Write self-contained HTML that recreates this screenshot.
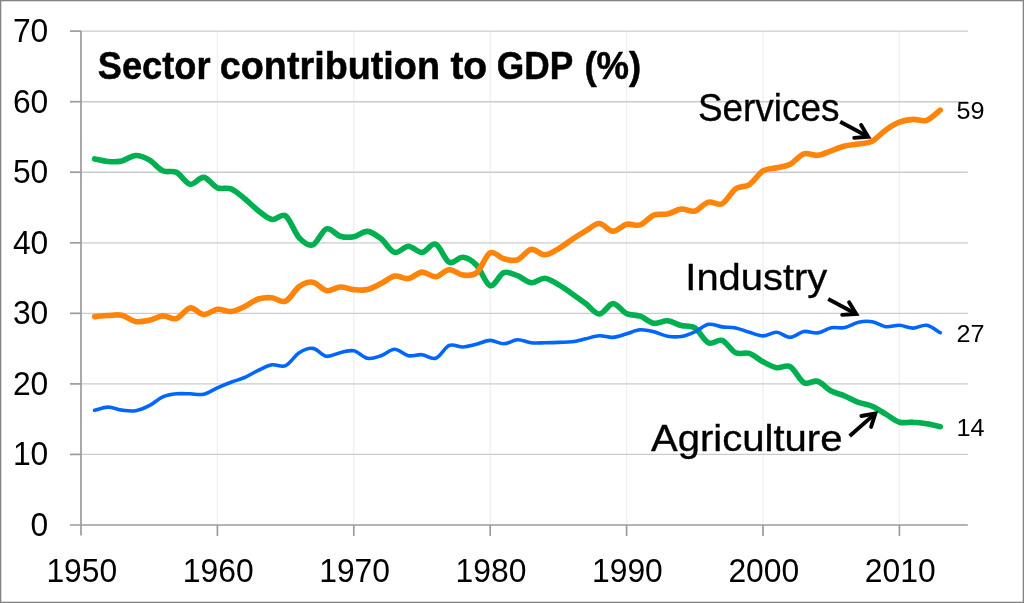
<!DOCTYPE html>
<html><head><meta charset="utf-8"><title>Sector contribution to GDP</title>
<style>html,body{margin:0;padding:0;background:#fff;}body{width:1024px;height:603px;overflow:hidden;font-family:"Liberation Sans",sans-serif;}svg{display:block;will-change:transform;}text{font-family:"Liberation Sans",sans-serif;fill:#000;}</style></head><body>
<svg width="1024" height="603" viewBox="0 0 1024 603">
<rect x="0" y="0" width="1024" height="603" fill="#fff"/>
<rect x="0.65" y="0.65" width="1022.7" height="601.7" fill="none" stroke="#838383" stroke-width="1.3"/>
<line x1="217.4" y1="31.1" x2="217.4" y2="525.0" stroke="#f0f0f0" stroke-width="1.3"/>
<line x1="353.8" y1="31.1" x2="353.8" y2="525.0" stroke="#f0f0f0" stroke-width="1.3"/>
<line x1="490.2" y1="31.1" x2="490.2" y2="525.0" stroke="#f0f0f0" stroke-width="1.3"/>
<line x1="626.6" y1="31.1" x2="626.6" y2="525.0" stroke="#f0f0f0" stroke-width="1.3"/>
<line x1="763.0" y1="31.1" x2="763.0" y2="525.0" stroke="#f0f0f0" stroke-width="1.3"/>
<line x1="899.4" y1="31.1" x2="899.4" y2="525.0" stroke="#f0f0f0" stroke-width="1.3"/>
<line x1="81.0" y1="454.4" x2="967.8" y2="454.4" stroke="#cbcbcb" stroke-width="1.35"/>
<line x1="81.0" y1="383.9" x2="967.8" y2="383.9" stroke="#cbcbcb" stroke-width="1.35"/>
<line x1="81.0" y1="313.3" x2="967.8" y2="313.3" stroke="#cbcbcb" stroke-width="1.35"/>
<line x1="81.0" y1="242.8" x2="967.8" y2="242.8" stroke="#cbcbcb" stroke-width="1.35"/>
<line x1="81.0" y1="172.2" x2="967.8" y2="172.2" stroke="#cbcbcb" stroke-width="1.35"/>
<line x1="81.0" y1="101.7" x2="967.8" y2="101.7" stroke="#cbcbcb" stroke-width="1.35"/>
<line x1="81.0" y1="31.1" x2="967.8" y2="31.1" stroke="#cbcbcb" stroke-width="1.35"/>
<line x1="81.0" y1="31.1" x2="81.0" y2="535.5" stroke="#9b9b9b" stroke-width="1.7"/>
<line x1="70" y1="525.0" x2="967.8" y2="525.0" stroke="#9b9b9b" stroke-width="1.7"/>
<line x1="70" y1="454.4" x2="81.0" y2="454.4" stroke="#9b9b9b" stroke-width="1.7"/>
<line x1="70" y1="383.9" x2="81.0" y2="383.9" stroke="#9b9b9b" stroke-width="1.7"/>
<line x1="70" y1="313.3" x2="81.0" y2="313.3" stroke="#9b9b9b" stroke-width="1.7"/>
<line x1="70" y1="242.8" x2="81.0" y2="242.8" stroke="#9b9b9b" stroke-width="1.7"/>
<line x1="70" y1="172.2" x2="81.0" y2="172.2" stroke="#9b9b9b" stroke-width="1.7"/>
<line x1="70" y1="101.7" x2="81.0" y2="101.7" stroke="#9b9b9b" stroke-width="1.7"/>
<line x1="70" y1="31.1" x2="81.0" y2="31.1" stroke="#9b9b9b" stroke-width="1.7"/>
<line x1="217.4" y1="525.0" x2="217.4" y2="536.0" stroke="#9b9b9b" stroke-width="1.7"/>
<line x1="353.8" y1="525.0" x2="353.8" y2="536.0" stroke="#9b9b9b" stroke-width="1.7"/>
<line x1="490.2" y1="525.0" x2="490.2" y2="536.0" stroke="#9b9b9b" stroke-width="1.7"/>
<line x1="626.6" y1="525.0" x2="626.6" y2="536.0" stroke="#9b9b9b" stroke-width="1.7"/>
<line x1="763.0" y1="525.0" x2="763.0" y2="536.0" stroke="#9b9b9b" stroke-width="1.7"/>
<line x1="899.4" y1="525.0" x2="899.4" y2="536.0" stroke="#9b9b9b" stroke-width="1.7"/>
<text transform="translate(48.3 535.9) scale(0.965 1)" font-size="33" text-anchor="end">0</text>
<text transform="translate(48.3 465.3) scale(0.965 1)" font-size="33" text-anchor="end">10</text>
<text transform="translate(48.3 394.8) scale(0.965 1)" font-size="33" text-anchor="end">20</text>
<text transform="translate(48.3 324.2) scale(0.965 1)" font-size="33" text-anchor="end">30</text>
<text transform="translate(48.3 253.7) scale(0.965 1)" font-size="33" text-anchor="end">40</text>
<text transform="translate(48.3 183.1) scale(0.965 1)" font-size="33" text-anchor="end">50</text>
<text transform="translate(48.3 112.6) scale(0.965 1)" font-size="33" text-anchor="end">60</text>
<text transform="translate(48.3 42.0) scale(0.965 1)" font-size="33" text-anchor="end">70</text>
<text transform="translate(81.8 581.6) scale(0.965 1)" font-size="33" text-anchor="middle">1950</text>
<text transform="translate(218.2 581.6) scale(0.965 1)" font-size="33" text-anchor="middle">1960</text>
<text transform="translate(354.6 581.6) scale(0.965 1)" font-size="33" text-anchor="middle">1970</text>
<text transform="translate(491.0 581.6) scale(0.965 1)" font-size="33" text-anchor="middle">1980</text>
<text transform="translate(627.4 581.6) scale(0.965 1)" font-size="33" text-anchor="middle">1990</text>
<text transform="translate(763.8 581.6) scale(0.965 1)" font-size="33" text-anchor="middle">2000</text>
<text transform="translate(900.2 581.6) scale(0.965 1)" font-size="33" text-anchor="middle">2010</text>
<path d="M94.6 158.9 C96.9 159.3 103.7 161.2 108.3 161.5 C112.8 161.8 117.4 161.9 121.9 160.9 C126.5 159.9 131.0 155.7 135.6 155.5 C140.1 155.3 144.7 157.3 149.2 159.9 C153.7 162.5 158.3 168.7 162.8 170.8 C167.4 172.9 171.9 170.2 176.5 172.4 C181.0 174.6 185.6 183.4 190.1 184.2 C194.7 185.0 199.2 176.8 203.8 177.4 C208.3 178.0 212.9 185.9 217.4 187.8 C221.9 189.7 226.5 187.0 231.0 188.8 C235.6 190.6 240.1 195.0 244.7 198.7 C249.2 202.3 253.8 207.2 258.3 210.7 C262.9 214.2 267.4 218.6 272.0 219.5 C276.5 220.4 281.1 212.8 285.6 215.9 C290.1 219.0 294.7 233.0 299.2 237.8 C303.8 242.6 308.3 246.3 312.9 244.8 C317.4 243.3 322.0 230.2 326.5 228.8 C331.1 227.4 335.6 234.9 340.2 236.2 C344.7 237.5 349.3 237.6 353.8 236.8 C358.3 236.0 362.9 231.1 367.4 231.4 C372.0 231.7 376.5 235.3 381.1 238.8 C385.6 242.3 390.2 251.2 394.7 252.4 C399.3 253.6 403.8 246.2 408.4 246.2 C412.9 246.2 417.5 252.7 422.0 252.4 C426.5 252.1 431.1 242.5 435.6 244.2 C440.2 245.8 444.7 260.1 449.3 262.3 C453.8 264.5 458.4 256.8 462.9 257.3 C467.5 257.8 472.0 260.5 476.6 265.2 C481.1 269.9 485.7 284.4 490.2 285.7 C494.7 286.9 499.3 274.4 503.8 272.7 C508.4 271.0 512.9 274.0 517.5 275.7 C522.0 277.4 526.6 282.3 531.1 282.7 C535.7 283.1 540.2 278.0 544.8 278.3 C549.3 278.6 553.9 282.1 558.4 284.7 C562.9 287.3 567.5 290.5 572.0 293.7 C576.6 296.9 581.1 300.2 585.7 303.6 C590.2 307.0 594.8 314.0 599.3 314.0 C603.9 314.0 608.4 303.7 613.0 303.6 C617.5 303.5 622.1 311.5 626.6 313.6 C631.1 315.7 635.7 314.6 640.2 316.2 C644.8 317.8 649.3 322.5 653.9 323.3 C658.4 324.1 663.0 320.4 667.5 320.8 C672.1 321.2 676.6 324.3 681.2 325.5 C685.7 326.7 690.3 325.0 694.8 327.9 C699.3 330.8 703.9 340.7 708.4 342.8 C713.0 344.9 717.5 338.7 722.1 340.4 C726.6 342.1 731.2 350.6 735.7 352.8 C740.3 355.0 744.8 351.9 749.4 353.4 C753.9 354.9 758.5 359.4 763.0 361.8 C767.5 364.2 772.1 366.9 776.6 367.7 C781.2 368.5 785.7 364.2 790.3 366.7 C794.8 369.2 799.4 380.3 803.9 382.7 C808.5 385.1 813.0 379.9 817.6 381.3 C822.1 382.7 826.7 388.6 831.2 391.0 C835.7 393.4 840.3 394.1 844.8 396.0 C849.4 397.9 853.9 400.7 858.5 402.4 C863.0 404.1 867.6 404.2 872.1 406.2 C876.7 408.2 881.2 411.5 885.8 414.2 C890.3 416.9 894.9 420.9 899.4 422.2 C903.9 423.5 908.5 421.9 913.0 422.2 C917.6 422.4 922.1 422.9 926.7 423.7 C931.2 424.4 938.0 426.2 940.3 426.7" fill="none" stroke="#00b050" stroke-width="5.6" stroke-linecap="round" stroke-linejoin="round"/>
<path d="M94.6 410.3 C96.9 409.8 103.7 407.1 108.3 407.1 C112.8 407.1 117.4 409.5 121.9 410.1 C126.5 410.7 131.0 411.4 135.6 410.7 C140.1 410.0 144.7 408.0 149.2 405.7 C153.7 403.4 158.3 398.8 162.8 396.8 C167.4 394.8 171.9 394.3 176.5 393.8 C181.0 393.3 185.6 393.7 190.1 393.8 C194.7 393.9 199.2 395.2 203.8 394.2 C208.3 393.2 212.9 389.8 217.4 387.8 C221.9 385.8 226.5 383.9 231.0 382.2 C235.6 380.5 240.1 379.5 244.7 377.5 C249.2 375.5 253.8 372.4 258.3 370.3 C262.9 368.2 267.4 365.6 272.0 364.8 C276.5 364.0 281.1 367.7 285.6 365.7 C290.1 363.7 294.7 355.6 299.2 352.7 C303.8 349.8 308.3 347.8 312.9 348.4 C317.4 349.0 322.0 355.6 326.5 356.3 C331.1 357.0 335.6 353.6 340.2 352.7 C344.7 351.8 349.3 349.9 353.8 350.8 C358.3 351.7 362.9 357.5 367.4 358.3 C372.0 359.1 376.5 357.2 381.1 355.7 C385.6 354.2 390.2 349.2 394.7 349.2 C399.3 349.2 403.8 354.8 408.4 355.7 C412.9 356.6 417.5 354.3 422.0 354.7 C426.5 355.1 431.1 359.9 435.6 358.3 C440.2 356.8 444.7 347.3 449.3 345.4 C453.8 343.5 458.4 347.2 462.9 347.0 C467.5 346.8 472.0 345.3 476.6 344.2 C481.1 343.1 485.7 340.5 490.2 340.4 C494.7 340.3 499.3 343.9 503.8 343.8 C508.4 343.7 512.9 340.0 517.5 339.8 C522.0 339.6 526.6 342.3 531.1 342.8 C535.7 343.3 540.2 342.9 544.8 342.8 C549.3 342.7 553.9 342.6 558.4 342.4 C562.9 342.2 567.5 342.4 572.0 341.8 C576.6 341.2 581.1 339.8 585.7 338.8 C590.2 337.8 594.8 336.0 599.3 335.8 C603.9 335.6 608.4 337.7 613.0 337.4 C617.5 337.1 622.1 335.1 626.6 333.8 C631.1 332.5 635.7 330.1 640.2 329.8 C644.8 329.5 649.3 330.7 653.9 331.8 C658.4 332.9 663.0 335.4 667.5 336.2 C672.1 337.0 676.6 337.2 681.2 336.5 C685.7 335.8 690.3 333.9 694.8 331.9 C699.3 329.9 703.9 325.1 708.4 324.3 C713.0 323.5 717.5 326.3 722.1 326.9 C726.6 327.5 731.2 327.0 735.7 327.9 C740.3 328.8 744.8 331.0 749.4 332.3 C753.9 333.6 758.5 335.9 763.0 335.9 C767.5 335.9 772.1 332.1 776.6 332.3 C781.2 332.5 785.7 337.4 790.3 337.3 C794.8 337.2 799.4 332.2 803.9 331.5 C808.5 330.8 813.0 333.5 817.6 332.9 C822.1 332.3 826.7 328.7 831.2 327.8 C835.7 326.9 840.3 328.5 844.8 327.6 C849.4 326.7 853.9 323.3 858.5 322.3 C863.0 321.3 867.6 321.0 872.1 321.7 C876.7 322.4 881.2 326.1 885.8 326.7 C890.3 327.3 894.9 325.1 899.4 325.3 C903.9 325.5 908.5 328.1 913.0 328.1 C917.6 328.1 922.1 324.5 926.7 325.3 C931.2 326.1 938.0 331.5 940.3 332.7" fill="none" stroke="#0066ff" stroke-width="3.6" stroke-linecap="round" stroke-linejoin="round"/>
<path d="M94.6 316.6 C96.9 316.4 103.7 315.7 108.3 315.5 C112.8 315.3 117.4 314.3 121.9 315.3 C126.5 316.3 131.0 320.7 135.6 321.5 C140.1 322.3 144.7 321.2 149.2 320.3 C153.7 319.4 158.3 316.2 162.8 315.9 C167.4 315.6 171.9 319.8 176.5 318.5 C181.0 317.2 185.6 308.6 190.1 307.9 C194.7 307.2 199.2 314.3 203.8 314.5 C208.3 314.7 212.9 309.8 217.4 309.3 C221.9 308.8 226.5 312.0 231.0 311.5 C235.6 311.0 240.1 308.6 244.7 306.5 C249.2 304.4 253.8 300.4 258.3 299.0 C262.9 297.6 267.4 297.4 272.0 297.8 C276.5 298.2 281.1 303.1 285.6 301.2 C290.1 299.3 294.7 289.8 299.2 286.6 C303.8 283.4 308.3 281.5 312.9 282.2 C317.4 282.9 322.0 289.8 326.5 290.6 C331.1 291.4 335.6 287.2 340.2 287.0 C344.7 286.8 349.3 289.2 353.8 289.6 C358.3 290.0 362.9 290.6 367.4 289.6 C372.0 288.6 376.5 285.9 381.1 283.6 C385.6 281.4 390.2 276.9 394.7 276.1 C399.3 275.3 403.8 279.3 408.4 278.6 C412.9 277.9 417.5 272.4 422.0 272.1 C426.5 271.8 431.1 277.1 435.6 276.7 C440.2 276.3 444.7 270.0 449.3 269.7 C453.8 269.4 458.4 274.5 462.9 275.0 C467.5 275.5 472.0 276.4 476.6 272.7 C481.1 269.0 485.7 255.1 490.2 252.8 C494.7 250.5 499.3 257.6 503.8 258.8 C508.4 260.0 512.9 261.4 517.5 259.8 C522.0 258.2 526.6 250.2 531.1 249.4 C535.7 248.6 540.2 254.9 544.8 254.8 C549.3 254.7 553.9 251.4 558.4 248.8 C562.9 246.2 567.5 242.5 572.0 239.5 C576.6 236.5 581.1 233.6 585.7 230.9 C590.2 228.2 594.8 223.4 599.3 223.5 C603.9 223.6 608.4 231.2 613.0 231.3 C617.5 231.4 622.1 225.4 626.6 224.3 C631.1 223.2 635.7 226.4 640.2 224.9 C644.8 223.4 649.3 216.9 653.9 215.1 C658.4 213.3 663.0 215.0 667.5 214.0 C672.1 213.0 676.6 209.5 681.2 209.0 C685.7 208.5 690.3 212.2 694.8 211.0 C699.3 209.8 703.9 203.3 708.4 202.1 C713.0 200.9 717.5 205.9 722.1 203.7 C726.6 201.5 731.2 191.9 735.7 188.7 C740.3 185.5 744.8 187.7 749.4 184.7 C753.9 181.7 758.5 173.6 763.0 170.8 C767.5 168.0 772.1 168.9 776.6 167.8 C781.2 166.7 785.7 166.5 790.3 164.2 C794.8 161.9 799.4 155.4 803.9 153.9 C808.5 152.4 813.0 155.8 817.6 155.3 C822.1 154.8 826.7 152.4 831.2 150.8 C835.7 149.2 840.3 147.1 844.8 146.0 C849.4 144.9 853.9 144.8 858.5 144.0 C863.0 143.2 867.6 143.6 872.1 141.3 C876.7 139.0 881.2 133.2 885.8 130.0 C890.3 126.8 894.9 124.0 899.4 122.2 C903.9 120.4 908.5 119.7 913.0 119.4 C917.6 119.1 922.1 121.8 926.7 120.3 C931.2 118.8 938.0 111.8 940.3 110.1" fill="none" stroke="#ff8409" stroke-width="5.6" stroke-linecap="round" stroke-linejoin="round"/>
<g font-weight="bold" font-size="38" stroke="#000" stroke-width="0.5">
<text x="97.8" y="78.5" textLength="112.7" lengthAdjust="spacingAndGlyphs">Sector</text>
<text x="219.8" y="78.5" textLength="220.2" lengthAdjust="spacingAndGlyphs">contribution</text>
<text x="450.4" y="78.5" textLength="36.8" lengthAdjust="spacingAndGlyphs">to</text>
<text x="496.8" y="78.5" textLength="76.4" lengthAdjust="spacingAndGlyphs">GDP</text>
<text x="584.4" y="78.5" textLength="56.8" lengthAdjust="spacingAndGlyphs">(%)</text>
</g>
<text x="697.9" y="120.7" font-size="38.4" stroke="#000" stroke-width="0.35" textLength="141.6" lengthAdjust="spacingAndGlyphs">Services</text>
<text x="685.3" y="290.1" font-size="37.4" stroke="#000" stroke-width="0.35" textLength="142" lengthAdjust="spacingAndGlyphs">Industry</text>
<text x="650.9" y="451.4" font-size="37.6" stroke="#000" stroke-width="0.35" textLength="191.6" lengthAdjust="spacingAndGlyphs">Agriculture</text>
<text x="956.6" y="119.4" font-size="24.6" textLength="28" lengthAdjust="spacingAndGlyphs">59</text>
<text x="956.6" y="342.1" font-size="24.6" textLength="28" lengthAdjust="spacingAndGlyphs">27</text>
<text x="956.6" y="435.7" font-size="24.6" textLength="28" lengthAdjust="spacingAndGlyphs">14</text>
<path d="M840.20 121.70 L868.15 136.77" fill="none" stroke="#000" stroke-width="3.9" stroke-linecap="butt"/>
<path d="M861.10 125.00 L868.15 136.77 L854.20 137.90" fill="none" stroke="#000" stroke-width="3.9" stroke-linecap="round" stroke-linejoin="miter" stroke-miterlimit="10"/>
<path d="M828.20 299.00 L856.25 313.97" fill="none" stroke="#000" stroke-width="3.9" stroke-linecap="butt"/>
<path d="M849.10 302.20 L856.25 313.97 L842.20 314.90" fill="none" stroke="#000" stroke-width="3.9" stroke-linecap="round" stroke-linejoin="miter" stroke-miterlimit="10"/>
<path d="M849.70 436.00 L875.38 413.40" fill="none" stroke="#000" stroke-width="3.9" stroke-linecap="butt"/>
<path d="M861.40 416.00 L875.38 413.40 L871.10 426.90" fill="none" stroke="#000" stroke-width="3.9" stroke-linecap="round" stroke-linejoin="miter" stroke-miterlimit="10"/>
</svg></body></html>
